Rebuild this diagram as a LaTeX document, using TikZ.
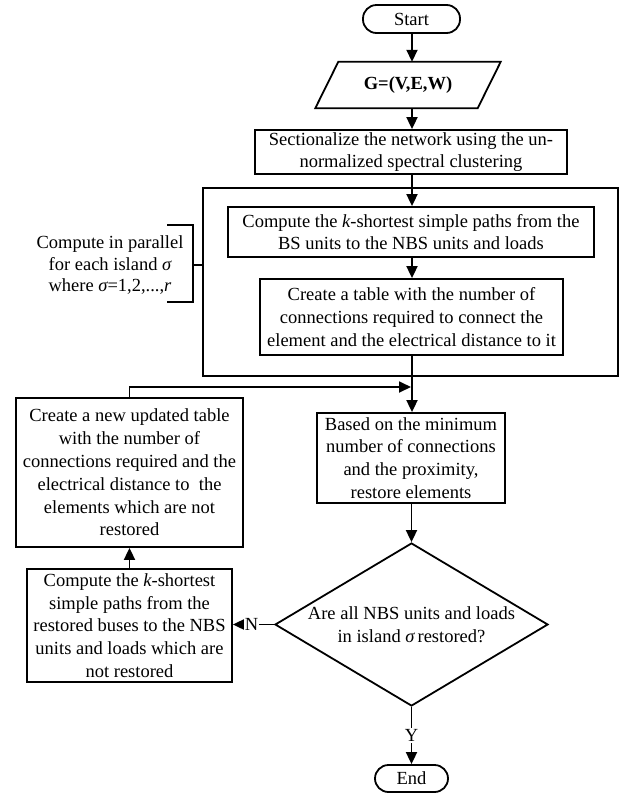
\documentclass[tikz,border=0pt]{standalone}
\usepackage{fontspec}
\setmainfont{Liberation Serif}
\usetikzlibrary{shapes.geometric,arrows.meta}
\begin{document}
\begin{tikzpicture}[x=1pt,y=-1pt,
  txt/.style={align=center,font=\fontsize{18.5}{22.8}\selectfont},
  box/.style={txt,draw,line width=1.8pt,inner sep=0pt},
  term/.style={box,rounded corners=13.5pt},
  conn/.style={line width=1.8pt,-{Triangle[length=12pt,width=11pt]}},
  plain/.style={line width=1.8pt},
  lab/.style={txt,fill=white,inner sep=1pt}]
\useasboundingbox (0,0) rectangle (631,793);
% terminals
\node[term,minimum width=97pt,minimum height=28pt] (start) at (411.5,19) {Start};
\node[term,minimum width=73pt,minimum height=27pt] (end) at (411.5,778.5) {End};
% input parallelogram
\node[txt,minimum width=185pt,minimum height=46pt,inner sep=0pt] (g) at (408,85) {\bfseries G=(V,E,W)};
\draw[plain] ([xshift=23pt]g.north west) -- (g.north east) -- ([xshift=-23pt]g.south east) -- (g.south west) -- cycle;
% process boxes
\node[box,minimum width=312pt,minimum height=44pt] (sect) at (411,152)
  {Sectionalize the network using the un-\\normalized spectral clustering};
\node[draw,line width=1.8pt,minimum width=415pt,minimum height=188pt,inner sep=0pt] (frame) at (410.5,282) {};
\node[box,minimum width=366pt,minimum height=50pt] (box1) at (411,232)
  {Compute the {\itshape k}-shortest simple paths from the\\BS units to the NBS units and loads};
\node[box,minimum width=303pt,minimum height=76pt] (box2) at (411.5,317)
  {Create a table with the number of\\connections required to connect the\\element and the electrical distance to it};
\node[box,minimum width=188pt,minimum height=90pt] (based) at (411,458)
  {Based on the minimum\\number of connections\\and the proximity,\\restore elements};
\node[draw,diamond,line width=1.8pt,minimum width=273pt,minimum height=163pt,inner sep=0pt,aspect=1.675] (dec) at (411.5,624.5) {};
\node[txt] (dectxt) at (dec.center) {Are all NBS units and loads\\in island {\itshape σ}\,restored?};
\node[box,minimum width=227pt,minimum height=149pt] (upd) at (129.5,472.5)
  {Create a new updated table\\with the number of\\connections required and the\\electrical distance to~ the\\elements which are not\\restored};
\node[box,minimum width=205pt,minimum height=113pt] (comp2) at (129.5,625.5)
  {Compute the {\itshape k}-shortest\\simple paths from the\\restored buses to the NBS\\units and loads which are\\not restored};
% bracket annotation
\node[txt,font=\fontsize{18.5}{21.5}\selectfont] (par) at (110,265)
  {Compute in parallel\\for each island {\itshape σ}\\where {\itshape σ}=1,2,...,{\itshape r}};
\coordinate (bt) at (167,225);
\coordinate (bb) at (167,302);
\coordinate (bm) at (193,265);
\draw[plain] (bt) -- (bt -| bm) -- (bb -| bm) -- (bb);
\draw[plain] (bm) -- (bm -| frame.west);
% connectors
\draw[conn] (start.south -| 412,0) -- (412,0 |- g.north);
\draw[conn] (412,0 |- g.south) -- (412,0 |- sect.north);
\draw[conn] (sect.south -| 412,0) -- (412,0 |- box1.north);
\draw[conn] (box1.south -| 412,0) -- (412,0 |- box2.north);
\draw[conn] (box2.south -| 412,0) -- (412,0 |- based.north);
\coordinate (j) at (411,387);
\draw[conn] (upd.north) -- (upd.north |- j) -- (j);
\draw[conn] (based.south -| dec.north) -- (dec.north);
\draw[conn] (dec.west) -- node[lab,pos=0.55]{N} (dec.west -| comp2.east);
\draw[conn] (comp2.north) -- (upd.south);
\draw[conn] (dec.south) -- node[lab,pos=0.5]{Y} (end.north);
\end{tikzpicture}
\end{document}
